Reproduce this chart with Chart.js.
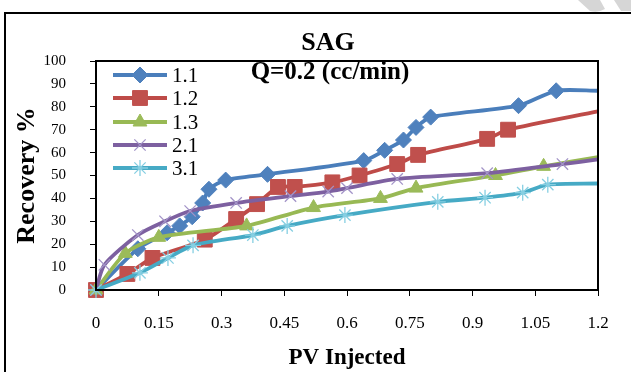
<!DOCTYPE html>
<html>
<head>
<meta charset="utf-8">
<script src="https://cdn.jsdelivr.net/npm/chart.js@4.4.1/dist/chart.umd.min.js"></script>
<style>
  html, body { margin: 0; padding: 0; background: #fff; }
  #wrap { position: absolute; left: 0; top: 0; width: 631px; height: 372px; }
</style>
</head>
<body>
<div id="wrap"><canvas id="recoveryChart" width="631" height="372"></canvas></div>
<script>
// axis ticks
const xTicks = [0, 0.15, 0.3, 0.45, 0.6, 0.75, 0.9, 1.05, 1.2];
const yTicks = [0, 10, 20, 30, 40, 50, 60, 70, 80, 90, 100];

// series (PV injected, recovery %); last point of each is the unmarked line end
const labels = ['1.1', '1.2', '1.3', '2.1', '3.1'];
const pv11 = [0, 0.1, 0.17, 0.2, 0.23, 0.255, 0.27, 0.31, 0.41, 0.64, 0.69, 0.735, 0.765, 0.8, 1.01, 1.1, 1.2];
const rec11 = [0, 18, 25, 28, 32, 38, 44, 48, 50.5, 56.5, 61, 65.5, 71, 75.5, 80.5, 87, 87];
const pv12 = [0, 0.075, 0.135, 0.26, 0.335, 0.385, 0.435, 0.475, 0.565, 0.63, 0.72, 0.77, 0.935, 0.985, 1.2];
const rec12 = [0, 7, 14, 22, 31, 37.5, 45, 45, 47, 50, 55, 59, 66, 70, 78];
const pv13 = [0, 0.07, 0.15, 0.36, 0.52, 0.68, 0.765, 0.955, 1.07, 1.2];
const rec13 = [0, 16, 23, 28, 36, 40, 44.5, 50, 54, 58];
const pv21 = [0, 0.02, 0.1, 0.165, 0.225, 0.335, 0.465, 0.555, 0.6, 0.72, 0.935, 1.115, 1.2];
const rec21 = [0, 11, 24, 30, 34.5, 38, 41, 43, 44.5, 48.5, 51, 55, 57];
const pv31 = [0, 0.105, 0.172, 0.232, 0.375, 0.457, 0.595, 0.817, 0.93, 1.02, 1.08, 1.2];
const rec31 = [0, 7.5, 14, 19.5, 24, 28, 32.7, 38.5, 40.3, 42.5, 46, 46.5];

const serif = 'Liberation Serif';

function pts(xs, ys) {
    return xs.map((x, i) => ({ x: x, y: ys[i] }));
}

function hideEnd(r) {
    return ctx => ctx.dataIndex === ctx.dataset.data.length - 1 ? 0 : r;
}

const datasets = [
    { label: labels[0], data: pts(pv11, rec11), borderColor: '#4A7EBB', pointBackgroundColor: '#4F81BD',
      pointBorderColor: '#4F81BD', pointStyle: 'rectRot', radius: 8, pointBorderWidth: 1, order: 5 },
    { label: labels[1], data: pts(pv12, rec12), borderColor: '#BE4B48', pointBackgroundColor: '#C0504D',
      pointBorderColor: '#C0504D', pointStyle: 'rect', radius: 10.5, pointBorderWidth: 1, order: 4 },
    { label: labels[2], data: pts(pv13, rec13), borderColor: '#98B954', pointBackgroundColor: '#9BBB59',
      pointBorderColor: '#9BBB59', pointStyle: 'triangle', radius: 8, pointBorderWidth: 1, order: 3 },
    { label: labels[3], data: pts(pv21, rec21), borderColor: '#7D60A0', pointBackgroundColor: '#A394C8',
      pointBorderColor: '#A394C8', pointStyle: 'crossRot', radius: 8, pointBorderWidth: 1.3, order: 2 },
    { label: labels[4], data: pts(pv31, rec31), borderColor: '#46AAC5', pointBackgroundColor: '#86CFE2',
      pointBorderColor: '#86CFE2', pointStyle: 'star', radius: 8, pointBorderWidth: 1.3, order: 1 }
];

datasets.forEach(d => {
    d.borderWidth = 3.8;
    d.tension = 0.25;
    d.clip = false;
    d.pointRadius = hideEnd(d.radius);
    d.pointHoverRadius = hideEnd(d.radius);
    d.fill = false;
});

const framePlugin = {
    id: 'frame',
    beforeDraw(chart) {
        const ctx = chart.ctx;
        ctx.save();
        // page frame
        ctx.strokeStyle = '#000';
        ctx.lineWidth = 2;
        ctx.beginPath();
        ctx.moveTo(5, 372);
        ctx.lineTo(5, 13);
        ctx.lineTo(631, 13);
        ctx.stroke();
        // grey page mark at the top right
        ctx.fillStyle = '#D6D6D6';
        ctx.beginPath();
        ctx.moveTo(578, 0);
        ctx.lineTo(600, 0);
        ctx.lineTo(605, 9);
        ctx.quadraticCurveTo(598, 13, 590, 11);
        ctx.closePath();
        ctx.fill();
        ctx.beginPath();
        ctx.moveTo(614, 0);
        ctx.lineTo(631, 0);
        ctx.lineTo(631, 11);
        ctx.lineTo(621, 11);
        ctx.closePath();
        ctx.fill();
        ctx.restore();
    },
    afterDraw(chart) {
        const ctx = chart.ctx;
        const a = chart.chartArea;
        ctx.save();
        ctx.strokeStyle = '#000';
        ctx.lineWidth = 2;
        ctx.strokeRect(a.left, a.top, a.right - a.left, a.bottom - a.top);

        ctx.fillStyle = '#000';
        ctx.textAlign = 'center';
        ctx.textBaseline = 'middle';
        ctx.font = 'bold 26px "' + serif + '"';
        ctx.fillText('SAG', 328, 43);
        ctx.font = 'bold 25px "' + serif + '"';
        ctx.fillText('Q=0.2 (cc/min)', 330, 73);

        // legend: line with marker
        const ys = [75, 98, 122, 145, 168];
        chart.data.datasets.forEach((d, i) => {
            const y = ys[i];
            ctx.strokeStyle = d.borderColor;
            ctx.lineWidth = d.borderWidth;
            ctx.beginPath();
            ctx.moveTo(113, y);
            ctx.lineTo(167, y);
            ctx.stroke();
            ctx.fillStyle = d.pointBackgroundColor;
            ctx.strokeStyle = d.pointBorderColor;
            ctx.lineWidth = d.pointBorderWidth;
            Chart.helpers.drawPoint(ctx, { pointStyle: d.pointStyle, radius: d.radius, rotation: 0, borderWidth: d.pointBorderWidth }, 140, y);
            ctx.fillStyle = '#000';
            ctx.textAlign = 'left';
            ctx.font = '21px "' + serif + '"';
            ctx.fillText(d.label, 172, y + 1);
        });
        ctx.restore();
    }
};

new Chart(document.getElementById('recoveryChart'), {
    type: 'line',
    data: { datasets: datasets },
    plugins: [framePlugin],
    options: {
        responsive: false,
        animation: false,
        layout: { padding: { left: 0, right: 33, top: 61, bottom: 0 } },
        plugins: { legend: { display: false }, tooltip: { enabled: false } },
        scales: {
            x: {
                type: 'linear',
                min: 0,
                max: 1.2,
                afterFit(s) { s.height = 82; },
                afterBuildTicks(s) { s.ticks = xTicks.map(v => ({ value: v })); },
                border: { color: '#000', width: 2 },
                grid: { drawOnChartArea: false, tickLength: 6, tickColor: '#000' },
                ticks: { padding: 17, color: '#000', font: { family: serif, size: 17 },
                         callback: v => String(+v.toFixed(2)) },
                title: { display: true, text: 'PV Injected', color: '#000',
                         font: { family: serif, size: 23, weight: 'bold' }, padding: { top: 0, bottom: 0 } }
            },
            y: {
                min: 0,
                max: 100,
                afterFit(s) { s.width = 96; },
                afterBuildTicks(s) { s.ticks = yTicks.map(v => ({ value: v })); },
                border: { color: '#000', width: 2 },
                grid: { drawOnChartArea: false, tickLength: 6, tickColor: '#000' },
                ticks: { padding: 24, color: '#000', font: { family: serif, size: 15 } },
                title: { display: true, text: 'Recovery %', color: '#000',
                         font: { family: serif, size: 26, weight: 'bold' }, padding: { top: 12, bottom: 0 } }
            }
        }
    }
});
</script>
</body>
</html>
